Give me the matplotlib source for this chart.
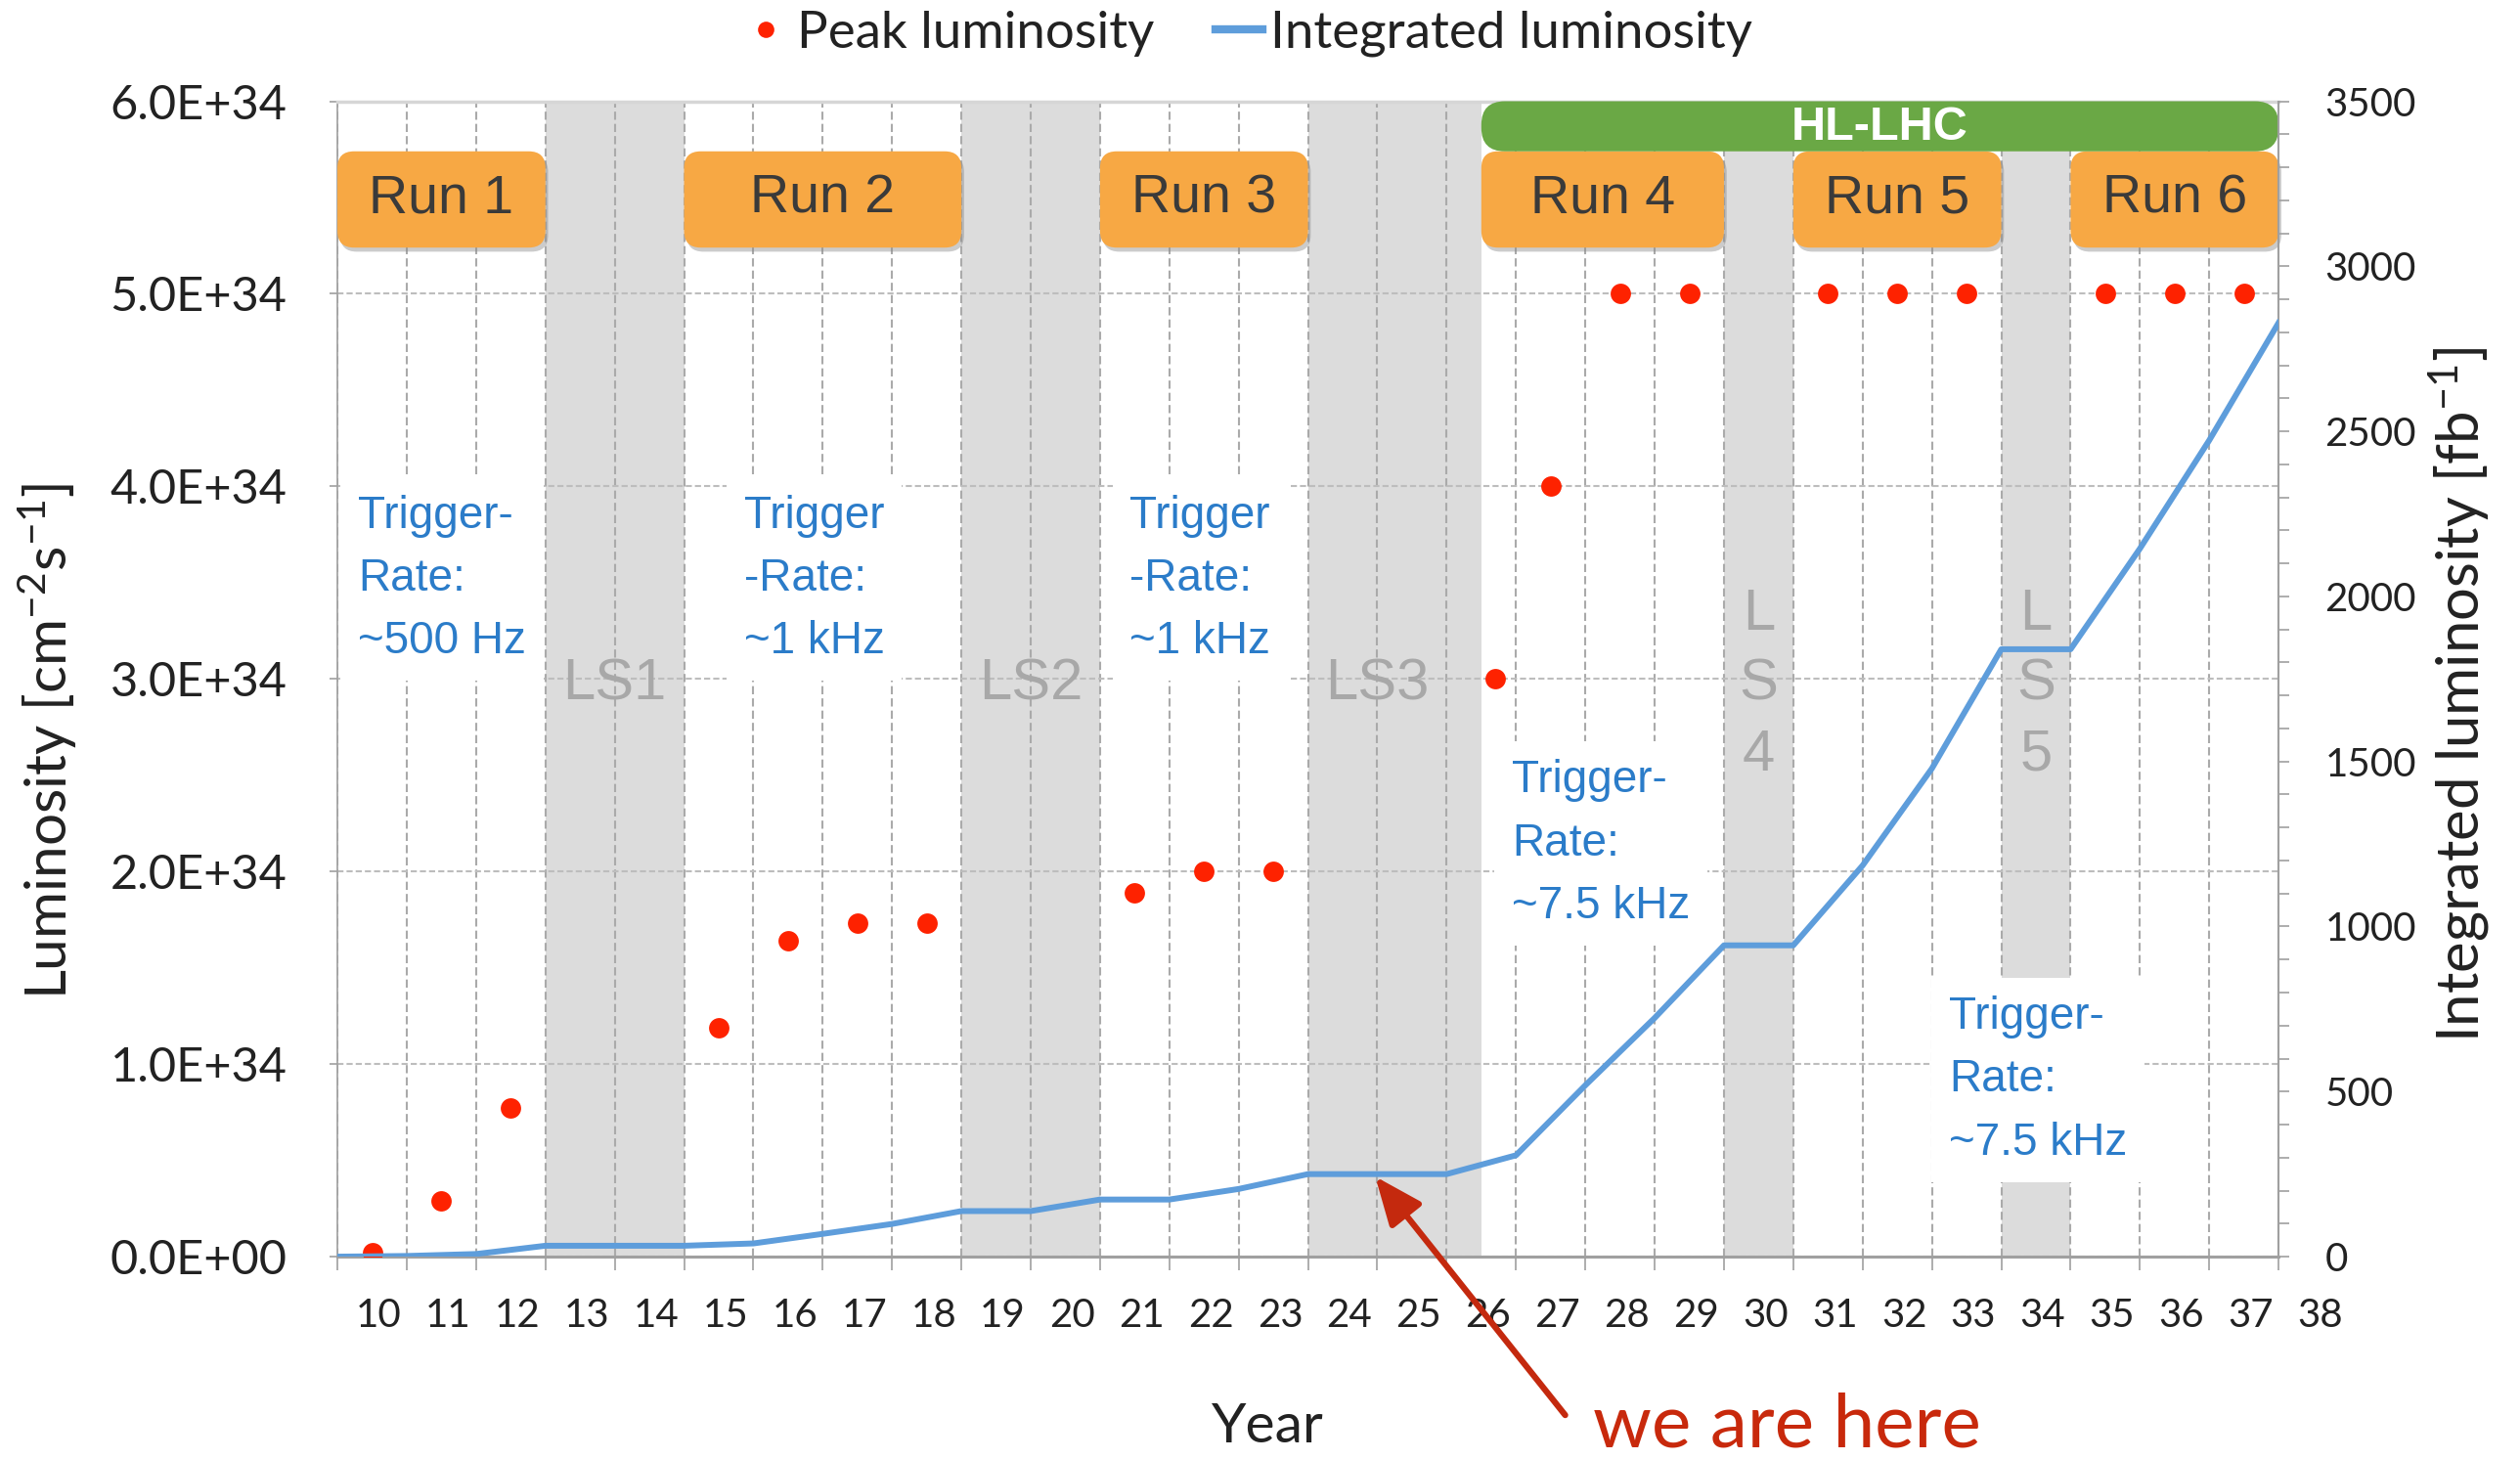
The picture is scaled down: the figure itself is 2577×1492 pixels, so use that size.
import matplotlib
matplotlib.use("Agg")
import matplotlib.pyplot as plt
import matplotlib.transforms as mtransforms
from matplotlib.patches import FancyBboxPatch
from matplotlib.lines import Line2D
from matplotlib.ticker import FuncFormatter, MultipleLocator

plt.rcParams['font.family'] = ['Lato', 'DejaVu Sans']
plt.rcParams['mathtext.fontset'] = 'custom'
plt.rcParams['mathtext.rm'] = 'Lato'
plt.rcParams['mathtext.default'] = 'regular'

# --- data ---
peak_years = [10, 11, 12, 15, 16, 17, 18, 21, 22, 23, 26.2, 27, 28, 29, 31, 32, 33, 35, 36, 37]
peak_lumi = [0.02e34, 0.29e34, 0.77e34, 1.19e34, 1.64e34, 1.73e34, 1.73e34, 1.89e34, 2.0e34, 2.0e34,
             3.0e34, 4.0e34, 5.0e34, 5.0e34, 5.0e34, 5.0e34, 5.0e34, 5.0e34, 5.0e34, 5.0e34]

# integrated luminosity at the end of each year [fb-1]
int_x = [9.5, 10.5, 11.5, 12.5, 13.5, 14.5, 15.5, 16.5, 17.5, 18.5, 19.5, 20.5, 21.5, 22.5,
         23.5, 24.5, 25.5, 26.5, 27.5, 28.5, 29.5, 30.5, 31.5, 32.5, 33.5, 34.5, 35.5, 36.5, 37.5]
int_lumi = [0, 2, 8, 33, 33, 33, 40, 69, 99, 138, 138, 173, 173, 205,
            250, 250, 250, 307, 519, 723, 943, 943, 1185, 1479, 1840, 1840, 2145, 2473, 2829]

year_labels = list(range(10, 39))

run_names = ['Run 1', 'Run 2', 'Run 3', 'Run 4', 'Run 5', 'Run 6']
run_start = [9.5, 14.5, 20.5, 26.0, 30.5, 34.5]
run_end = [12.5, 18.5, 23.5, 29.5, 33.5, 37.5]

ls_names = ['LS1', 'LS2', 'LS3', 'L\nS\n4', 'L\nS\n5']
ls_start = [12.5, 18.5, 23.5, 29.5, 33.5]
ls_end = [14.5, 20.5, 26.0, 30.5, 34.5]
ls_label_x = [13.5, 19.5, 24.5, 30.0, 34.0]

trig_text = ['Trigger-\nRate:\n~500 Hz', 'Trigger\n-Rate:\n~1 kHz', 'Trigger\n-Rate:\n~1 kHz',
             'Trigger-\nRate:\n~7.5 kHz', 'Trigger-\nRate:\n~7.5 kHz']
trig_x = [9.8, 15.36, 20.93, 26.44, 32.75]
trig_y = [3.52e34, 3.52e34, 3.52e34, 2.145e34, 0.918e34]

RED = '#fe2200'
BLUE = '#5e9ddb'
ORANGE = '#f7a844'
GREEN = '#6aa845'
TBLUE = '#2b7cc9'
SANS = ['Liberation Sans', 'DejaVu Sans']

fig = plt.figure(figsize=(25.77, 14.92), dpi=100)
ax = fig.add_axes([0.1339, 0.1387, 0.9042 - 0.1339, 0.9306 - 0.1387])
ax.set_axisbelow(True)

# ticks first, limits after (set_xticks would widen the view)
ax.set_xticks(year_labels)
ax.set_xticklabels([str(y) for y in year_labels])
ax.xaxis.set_minor_locator(MultipleLocator(1.0, offset=0.5))
ax.yaxis.set_major_locator(MultipleLocator(1e34))
ax.yaxis.set_major_formatter(FuncFormatter(lambda v, p: f"{v:.1E}"))
ax.set_xlim(9.5, 37.5)
ax.set_ylim(0, 6e34)

# long shutdown bands
for x0, x1, name, lx in zip(ls_start, ls_end, ls_names, ls_label_x):
    ax.axvspan(x0, x1, color='#dcdcdc', lw=0, zorder=0)
    ax.text(lx, 2.97e34, name, ha='center', va='center', fontsize=43, color='#a8a8a8',
            family=SANS, linespacing=1.4, zorder=1)

# grid
ax.grid(which='minor', axis='x', color='#aaaaaa', lw=1.5, linestyle=(0, (4, 2)))
ax.grid(which='major', axis='y', color='#bdbdbd', lw=1.5, linestyle=(0, (3, 1.5)))

ax.tick_params(axis='x', which='major', length=0, pad=30, labelsize=29, labelcolor='#222222')
ax.tick_params(axis='x', which='minor', length=10, width=1.2, color='#a0a0a0')
ax.tick_params(axis='y', which='major', length=6, width=1.2, pad=31, labelsize=35,
               color='#a0a0a0', labelcolor='#222222')
shift = mtransforms.ScaledTranslation(5 / 72, 0, fig.dpi_scale_trans)
for lab in ax.get_xticklabels():
    lab.set_transform(lab.get_transform() + shift)

for s in ['left', 'bottom']:
    ax.spines[s].set_color('#a0a0a0')
ax.spines['left'].set_linewidth(1.2)
ax.spines['bottom'].set_linewidth(2.2)
ax.spines['right'].set_visible(False)
ax.spines['top'].set_color('#d6d6d6')
ax.spines['top'].set_linewidth(2.5)

# last year label sits outside the plotting range
blend = mtransforms.blended_transform_factory(ax.transData, ax.transAxes)
ax.annotate(str(year_labels[-1]), xy=(year_labels[-1], 0), xycoords=blend,
            xytext=(5, -30), textcoords='offset points', ha='center', va='top',
            fontsize=29, color='#222222', annotation_clip=False)

# trigger rate notes
for t, x, y in zip(trig_text, trig_x, trig_y):
    ax.text(x, y, t, ha='left', va='center', fontsize=33, color=TBLUE, family=SANS,
            linespacing=1.6, zorder=2.2,
            bbox=dict(facecolor='white', edgecolor='none', pad=13))

# peak luminosity
ax.plot(peak_years, peak_lumi, 'o', color=RED, markersize=15, markeredgewidth=0, zorder=3)

# run boxes
xpp = (37.5 - 9.5) / ax.bbox.width
ypp = 6e34 / ax.bbox.height
asp = ypp / xpp
shadow = ax.transData + mtransforms.ScaledTranslation(2 / 72, -3 / 72, fig.dpi_scale_trans)
for name, x0, x1 in zip(run_names, run_start, run_end):
    y0, y1 = 5.24e34, 5.74e34
    for tr, fc, al in [(shadow, '#8c8c8c', 0.45), (ax.transData, ORANGE, 1.0)]:
        p = FancyBboxPatch((x0, y0), x1 - x0, y1 - y0,
                           boxstyle=f"round,pad=0,rounding_size={17 * xpp}",
                           mutation_aspect=asp, facecolor=fc, edgecolor='none',
                           alpha=al, transform=tr, zorder=4, clip_on=False)
        ax.add_patch(p)
    ax.text((x0 + x1) / 2, 5.49e34, name, ha='center', va='center', fontsize=40,
            color='#3a3a3a', family=SANS, zorder=5)

# HL-LHC bar
hl = FancyBboxPatch((run_start[3], 5.74e34), run_end[-1] - run_start[3], 0.26e34,
                    boxstyle=f"round,pad=0,rounding_size={24 * xpp}",
                    mutation_aspect=asp, facecolor=GREEN, edgecolor='none',
                    zorder=4, clip_on=False)
ax.add_patch(hl)
ax.text((run_start[3] + run_end[-1]) / 2, 5.865e34, 'HL-LHC', ha='center', va='center',
        fontsize=35, fontweight='bold', color='white', family=SANS, zorder=5)

# integrated luminosity on the right axis
ax2 = ax.twinx()
ax2.set_ylim(0, 3500)
ax2.plot(int_x, int_lumi, color=BLUE, lw=4.3, solid_joinstyle='round', zorder=3)
ax2.set_xlim(9.5, 37.5)
ax2.yaxis.set_major_locator(MultipleLocator(500))
ax2.yaxis.set_minor_locator(MultipleLocator(100))
ax2.tick_params(axis='y', which='major', length=8, width=1.2, pad=26, labelsize=29,
                color='#a0a0a0', labelcolor='#222222')
ax2.tick_params(axis='y', which='minor', length=8, width=1.2, color='#a0a0a0')
for s in ['left', 'top', 'bottom']:
    ax2.spines[s].set_visible(False)
ax2.spines['right'].set_color('#a0a0a0')
ax2.spines['right'].set_linewidth(1.5)

# arrow: we are here
ax.annotate('', xy=(24.47, 0.416e34), xytext=(27.21, -0.823e34),
            arrowprops=dict(arrowstyle='-|>,head_length=0.6,head_width=0.25',
                            color='#c4290e', lw=4.5, mutation_scale=50,
                            shrinkA=0, shrinkB=0),
            annotation_clip=False)
fig.text(0.632, 0.0, 'we are here', ha='left', va='bottom', fontsize=55, color='#c8290c')

# axis titles
fig.text(0.503, 0.022, 'Year', ha='center', va='center', fontsize=41, color='#222222')
fig.text(0.019, 0.492, 'Luminosity [cm$^{-2}$s$^{-1}$]', rotation=90, ha='center',
         va='center', fontsize=42, color='#222222')
fig.text(0.976, 0.524, 'Integrated luminosity [fb$^{-1}$]', rotation=90, ha='center',
         va='center', fontsize=43, color='#222222')

# legend
handles = [Line2D([], [], marker='o', color=RED, linestyle='none', markersize=12, markeredgewidth=0),
           Line2D([], [], color=BLUE, lw=6)]
fig.legend(handles, ['Peak luminosity', 'Integrated luminosity'], loc='center',
           bbox_to_anchor=(0.495, 0.977), ncol=2, frameon=False, fontsize=38,
           handlelength=0.9, handletextpad=0.15, columnspacing=1.2, labelcolor='#222222')

fig.savefig('out.png', dpi=100)
